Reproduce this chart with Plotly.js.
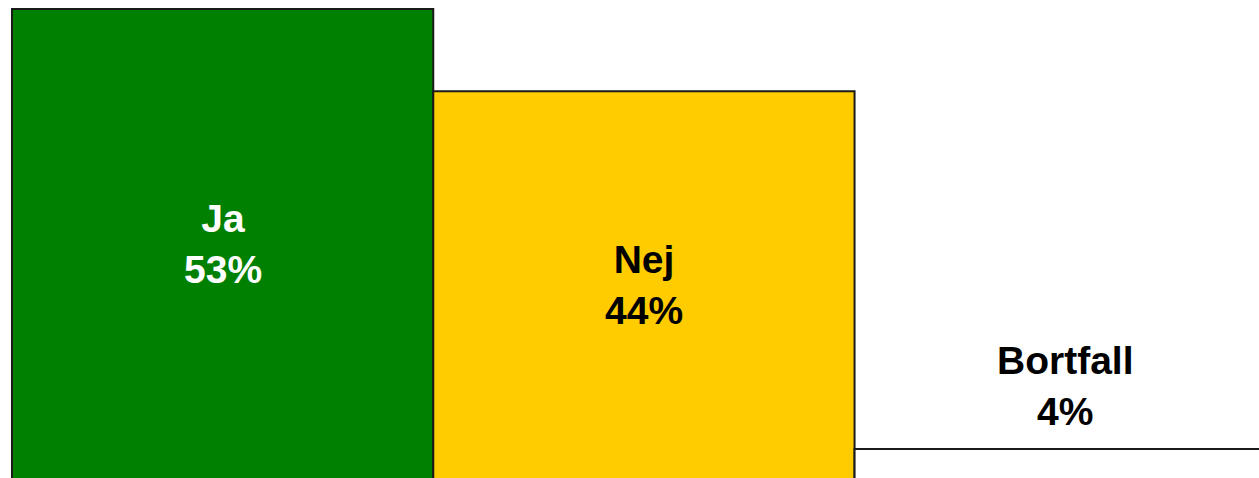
<!DOCTYPE html>
<html>
<head>
<meta charset="utf-8">
<script src="https://cdn.plot.ly/plotly-3.0.1.min.js"></script>
<style>
  html, body { margin: 0; padding: 0; background: #ffffff; overflow: hidden; }
  #chart { width: 1259px; height: 478px; }
</style>
</head>
<body>
<div id="chart"></div>
<script>
// Data
var categories = ["Ja", "Nej", "Bortfall"];
var values = [52.6, 43.6, 4.4];
var percentLabels = ["53%", "44%", "4%"];
var barColors = ["#008000", "#FFCC00", "#FFFFFF"];
var textColors = ["#FFFFFF", "#000000", "#000000"];

var yRange = [1.23, 53.586];
var xRange = [-0.5047, 2.46];

var trace = {
  type: "bar",
  x: categories,
  y: values,
  marker: { color: barColors, line: { color: "#1a1a1a", width: 2 } },
  textposition: "none",
  hoverinfo: "skip"
};

var annotations = categories.map(function (c, i) {
  var inside = values[i] > 10;
  var a = {
    x: c,
    xref: "x",
    yref: "y",
    text: "<b>" + c + "<br>" + percentLabels[i] + "</b>",
    showarrow: false,
    font: { family: "Liberation Sans, Arial, sans-serif", size: 39, color: textColors[i] },
    align: "center"
  };
  if (inside) {
    a.y = (values[i] + yRange[0]) / 2;
    a.yanchor = "middle";
  } else {
    a.y = values[i];
    a.yanchor = "bottom";
    a.yshift = 14;
  }
  return a;
});

var layout = {
  width: 1259,
  height: 478,
  margin: { l: 10, r: 0, t: 0, b: 0, pad: 0 },
  paper_bgcolor: "#ffffff",
  plot_bgcolor: "#ffffff",
  bargap: 0,
  showlegend: false,
  xaxis: { range: xRange, visible: false, fixedrange: true },
  yaxis: { range: yRange, visible: false, fixedrange: true },
  annotations: annotations
};

Plotly.newPlot("chart", [trace], layout, { displayModeBar: false, staticPlot: true });
</script>
</body>
</html>
